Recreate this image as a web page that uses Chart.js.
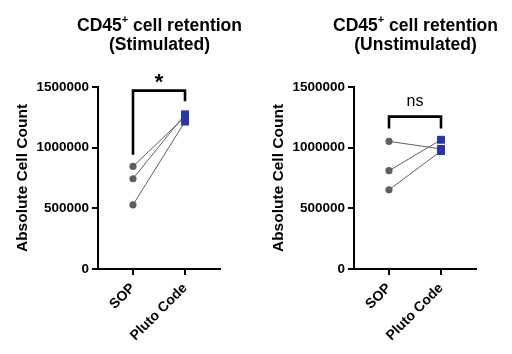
<!DOCTYPE html>
<html>
<head>
<meta charset="utf-8">
<script src="https://cdn.jsdelivr.net/npm/chart.js@4/dist/chart.umd.min.js"></script>
<style>
  html, body { margin: 0; padding: 0; background: #fff; }
  #wrap { position: relative; width: 512px; height: 354px; overflow: hidden; }
  .panel { position: absolute; top: 0; width: 256px; height: 354px; }
  .title { position: absolute; left: 0; top: 16px; width: 319px; text-align: center;
           font-family: "Liberation Sans", Arial, sans-serif; font-weight: bold; font-size: 17.5px;
           line-height: 19px; color: #000; }
  .title sup { font-size: 11px; line-height: 0; position: relative; top: -1px; }
  canvas { position: absolute; left: 0; top: 0; }
</style>
</head>
<body>
<div id="wrap">
  <div class="panel" style="left:0">
    <canvas id="c1" width="256" height="354"></canvas>
    <div class="title">CD45<sup>+</sup> cell retention<br>(Stimulated)</div>
  </div>
  <div class="panel" style="left:256px">
    <canvas id="c2" width="256" height="354"></canvas>
    <div class="title">CD45<sup>+</sup> cell retention<br>(Unstimulated)</div>
  </div>
</div>
<script>
// ---- data ----
const categories = ['SOP', 'Pluto Code'];
const stimSOP = [845000, 744000, 529000];
const stimPluto = [1255000, 1275000, 1215000];
const unstimSOP = [1052000, 810000, 653000];
const unstimPluto = [990000, 1065000, 972000];
const yTicks = [0, 500000, 1000000, 1500000];
// bracket: [left leg bottom, bar height, right leg bottom]
const stimBracket = [942000, 1470000, 1383000];
const unstimBracket = [1157000, 1256000, 1157000];
const sigLabels = ['*', 'ns'];
const sigLabelY = [1535000, 1378000];

const FONT = '"Liberation Sans", Arial, sans-serif';
const GREY = '#5b5e68';
const BLUE = '#2a35a8';

function makeDatasets(sop, pluto) {
  return sop.map((v, i) => ({
    data: [{x: 1, y: v}, {x: 2, y: pluto[i]}],
    borderColor: '#606060',
    borderWidth: 1,
    pointStyle: ['circle', 'rect'],
    pointRadius: [3.6, 5.6],
    pointBackgroundColor: [GREY, BLUE],
    pointBorderColor: [GREY, BLUE],
    pointBorderWidth: 0,
    clip: false
  }));
}

const bracketPlugin = {
  id: 'bracket',
  afterDraw(chart, args, opts) {
    const {ctx} = chart;
    const xs = chart.scales.x, ys = chart.scales.y;
    const b = opts.bracket;
    const x1 = xs.getPixelForValue(1), x2 = xs.getPixelForValue(2);
    ctx.save();
    ctx.strokeStyle = '#000';
    ctx.lineWidth = 2.6;
    ctx.lineCap = 'butt';
    ctx.lineJoin = 'miter';
    ctx.beginPath();
    ctx.moveTo(x1, ys.getPixelForValue(b[0]));
    ctx.lineTo(x1, ys.getPixelForValue(b[1]));
    ctx.lineTo(x2, ys.getPixelForValue(b[1]));
    ctx.lineTo(x2, ys.getPixelForValue(b[2]));
    ctx.stroke();
    ctx.fillStyle = '#000';
    ctx.textAlign = 'center';
    ctx.textBaseline = 'middle';
    ctx.font = opts.font;
    ctx.fillText(opts.label, (x1 + x2) / 2, ys.getPixelForValue(opts.labelY));
    ctx.restore();
  }
};

function makeChart(id, sop, pluto, bracket, labelIdx) {
  return new Chart(document.getElementById(id), {
    type: 'line',
    data: { datasets: makeDatasets(sop, pluto) },
    plugins: [bracketPlugin],
    options: {
      responsive: false,
      animation: false,
      devicePixelRatio: 1,
      layout: { padding: { top: 87, right: 36, left: 0, bottom: 0 } },
      plugins: {
        legend: { display: false },
        tooltip: { enabled: false },
        title: { display: false },
        bracket: {
          bracket: bracket,
          label: sigLabels[labelIdx],
          labelY: sigLabelY[labelIdx],
          font: labelIdx === 0 ? 'bold 22px ' + FONT : '16px ' + FONT
        }
      },
      scales: {
        x: {
          type: 'linear',
          min: 0.327, max: 2.673,
          afterBuildTicks: s => { s.ticks = categories.map((c, i) => ({value: i + 1})); },
          afterFit: s => { s.height = 85; },
          grid: { drawOnChartArea: false, drawTicks: true, tickLength: 6, color: '#000', lineWidth: 2 },
          border: { color: '#000', width: 2 },
          ticks: {
            autoSkip: false, minRotation: 45, maxRotation: 45, padding: 5,
            color: '#000', font: { family: FONT, weight: 'bold', size: 14 },
            callback: v => categories[v - 1]
          }
        },
        y: {
          min: 0, max: 1500000,
          afterBuildTicks: s => { s.ticks = yTicks.map(v => ({value: v})); },
          afterFit: s => { s.width = 98; },
          grid: { drawOnChartArea: false, drawTicks: true, tickLength: 6, color: '#000', lineWidth: 2 },
          border: { color: '#000', width: 2 },
          title: { display: true, text: 'Absolute Cell Count', color: '#000',
                   font: { family: FONT, weight: 'bold', size: 15.5 }, padding: { top: 13, bottom: 0 } },
          ticks: {
            padding: 3, color: '#000', font: { family: FONT, weight: 'bold', size: 13.5 },
            callback: v => String(v)
          }
        }
      }
    }
  });
}

makeChart('c1', stimSOP, stimPluto, stimBracket, 0);
makeChart('c2', unstimSOP, unstimPluto, unstimBracket, 1);
</script>
</body>
</html>
